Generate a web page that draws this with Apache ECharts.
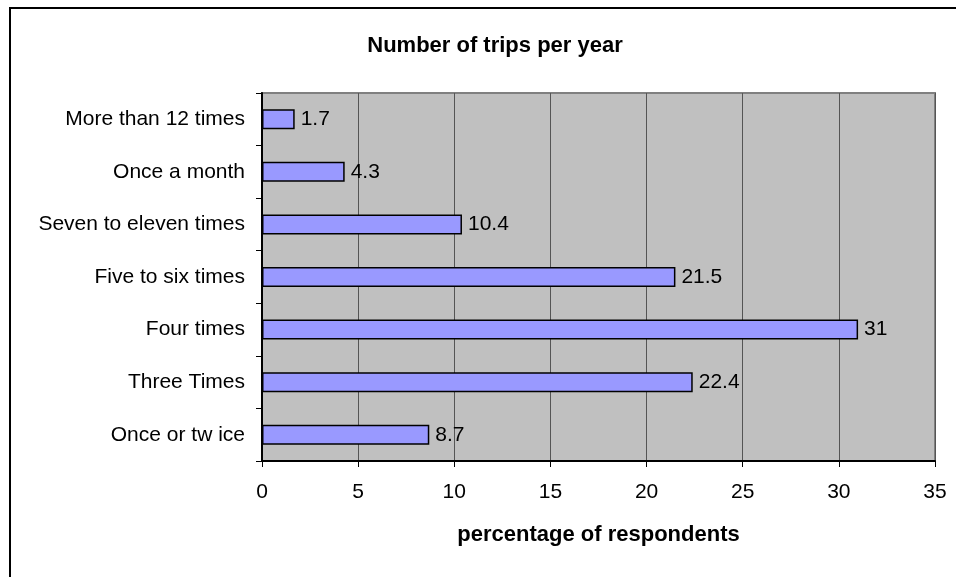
<!DOCTYPE html>
<html>
<head>
<meta charset="utf-8">
<script src="https://cdn.jsdelivr.net/npm/echarts@6/dist/echarts.min.js"></script>
<style>
  html, body { margin: 0; padding: 0; background: #ffffff; }
  #chart { width: 956px; height: 577px; }
</style>
</head>
<body>
<div id="chart"></div>
<script>
// Trip frequency categories, listed bottom to top as drawn on the axis
const categories = [
  'Once or tw ice',
  'Three Times',
  'Four times',
  'Five to six times',
  'Seven to eleven times',
  'Once a month',
  'More than 12 times'
];
// Share of respondents (%) for each category
const percentages = [8.7, 22.4, 31, 21.5, 10.4, 4.3, 1.7];
// Horizontal axis tick values
const xTicks = [0, 5, 10, 15, 20, 25, 30, 35];

const FONT = '"Liberation Sans", Arial, sans-serif';

const chart = echarts.init(document.getElementById('chart'), null, { renderer: 'canvas' });

chart.setOption({
  backgroundColor: '#ffffff',
  animation: false,
  title: {
    text: 'Number of trips per year',
    left: 490,
    top: 30,
    textAlign: 'center',
    textStyle: { fontFamily: FONT, fontSize: 22, fontWeight: 'bold', color: '#000000' }
  },
  grid: {
    left: 262,
    right: 21,
    top: 93,
    bottom: 116,
    show: true,
    backgroundColor: '#c0c0c0',
    borderColor: '#808080',
    borderWidth: 2
  },
  xAxis: {
    type: 'value',
    min: xTicks[0],
    max: xTicks[xTicks.length - 1],
    interval: 5,
    name: 'percentage of respondents',
    nameLocation: 'middle',
    nameGap: 63,
    nameTextStyle: { fontFamily: FONT, fontSize: 22, fontWeight: 'bold', color: '#000000' },
    axisLine: { show: true, onZero: false, lineStyle: { color: '#000000', width: 2 } },
    axisTick: { show: true, length: 6, lineStyle: { color: '#000000', width: 1 } },
    axisLabel: { fontFamily: FONT, fontSize: 21, color: '#000000', margin: 21 },
    splitLine: { show: true, lineStyle: { color: '#555555', width: 1 } }
  },
  yAxis: {
    type: 'category',
    data: categories,
    axisLine: { show: true, lineStyle: { color: '#000000', width: 2 } },
    axisTick: { show: true, length: 6, lineStyle: { color: '#000000', width: 1 } },
    axisLabel: { fontFamily: FONT, fontSize: 21, color: '#000000', margin: 17 },
    splitLine: { show: false }
  },
  series: [{
    type: 'bar',
    data: percentages,
    barCategoryGap: '62%',
    itemStyle: { color: '#9999ff', borderColor: '#000000', borderWidth: 1.5 },
    label: {
      show: true,
      position: 'right',
      distance: 6,
      fontFamily: FONT,
      fontSize: 21,
      color: '#000000'
    }
  }],
  graphic: [
    // outer chart frame (top and left edges)
    { type: 'line', shape: { x1: 9, y1: 8, x2: 956, y2: 8 }, style: { stroke: '#000000', lineWidth: 2 } },
    { type: 'line', shape: { x1: 10, y1: 7, x2: 10, y2: 577 }, style: { stroke: '#000000', lineWidth: 2 } }
  ]
});
</script>
</body>
</html>
